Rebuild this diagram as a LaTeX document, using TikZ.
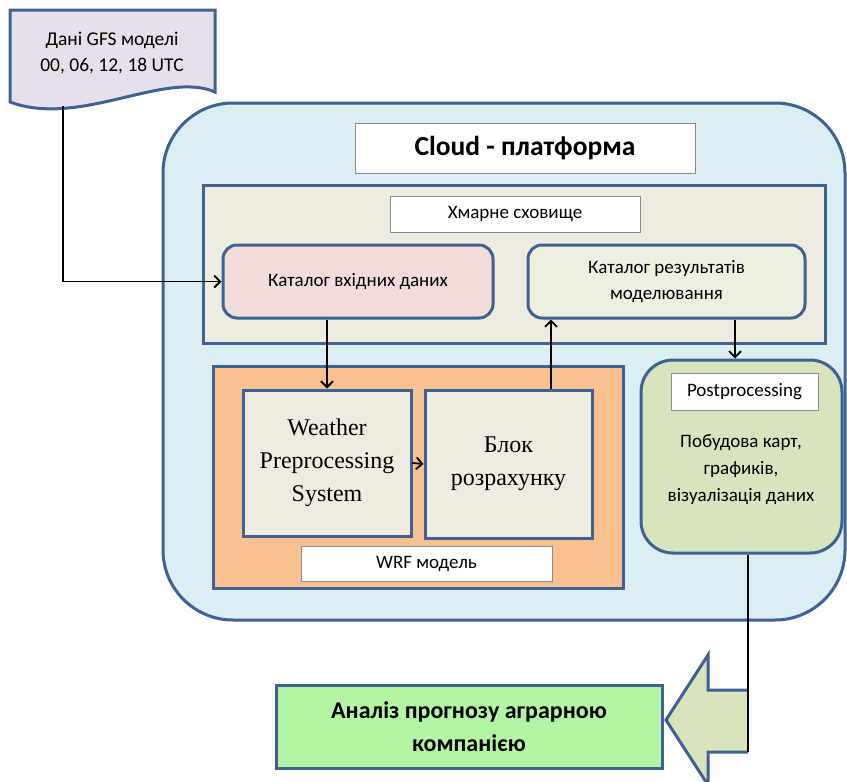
\documentclass[tikz,border=0pt]{standalone}
\usepackage{fontspec}
\setmainfont{Carlito}
\newfontfamily\serifface{Liberation Serif}
\usetikzlibrary{arrows.meta}

\definecolor{edgeblue}{HTML}{3D6293}
\definecolor{cloudfill}{HTML}{DAEEF3}
\definecolor{storefill}{HTML}{EEECE1}
\definecolor{pinkfill}{HTML}{F2DCDB}
\definecolor{palegreen}{HTML}{EBF1DE}
\definecolor{orangefill}{HTML}{FAC090}
\definecolor{olivefill}{HTML}{D7E4BD}
\definecolor{resultfill}{HTML}{B4F5A4}
\definecolor{docfill}{HTML}{E5E0EC}
\definecolor{labeledge}{HTML}{8C8C8C}

\tikzset{
  blockbox/.style={draw=edgeblue, line width=3pt, inner sep=0pt, align=center},
  labelbox/.style={draw=labeledge, line width=0.8pt, fill=white, inner sep=0pt, align=center},
  conn/.style={draw=black, line width=1.8pt, -{Straight Barb[length=6pt,width=12pt,line width=1.8pt]}},
  plainline/.style={draw=black, line width=1.8pt},
  smalltext/.style={font=\fontsize{19}{26}\selectfont},
  midtext/.style={font=\fontsize{19.5}{26}\selectfont},
  seriftext/.style={font=\serifface\fontsize{24}{33}\selectfont},
}

\begin{document}
\begin{tikzpicture}[x=1pt,y=-1pt]
\useasboundingbox (0,0) rectangle (847,782);

% GFS input document
\draw[edgeblue, line width=3pt, fill=docfill]
  (10,10) -- (215,10) -- (215,92)
  .. controls (165,70) and (80,128) .. (10,102) -- cycle;
\node[midtext, align=center] (gfs) at (112,53) {Дані GFS моделі\\00, 06, 12, 18 UTC};
\coordinate (gfsout) at (63,106);

% cloud platform
\node[blockbox, fill=cloudfill, rounded corners=70pt, minimum width=682pt, minimum height=517pt] (cloud) at (504,361.5) {};
\node[labelbox, minimum width=340pt, minimum height=50pt, font=\fontsize{27.5}{30}\selectfont\bfseries] (title) at (525,148) {Cloud - платформа};

% storage
\node[blockbox, fill=storefill, minimum width=622pt, minimum height=158pt] (store) at (514,264) {};
\node[labelbox, smalltext, minimum width=250pt, minimum height=36pt] (storelabel) at (515,214) {Хмарне сховище};
\node[blockbox, smalltext, fill=pinkfill, rounded corners=14pt, minimum width=270pt, minimum height=73pt] (incat) at (358,281.5) {Каталог вхідних даних};
\node[blockbox, smalltext, fill=palegreen, rounded corners=14pt, minimum width=277pt, minimum height=73pt] (outcat) at (666.5,281.5) {Каталог результатів\\моделювання};

% WRF model
\node[blockbox, fill=orangefill, minimum width=410pt, minimum height=222pt] (wrf) at (418,477) {};
\node[blockbox, seriftext, fill=storefill, minimum width=168pt, minimum height=146pt] (wps) at (327,463) {Weather\\Preprocessing\\System};
\node[blockbox, seriftext, fill=storefill, minimum width=167pt, minimum height=148pt] (calc) at (508.5,464) {Блок\\розрахунку};
\node[labelbox, smalltext, minimum width=251pt, minimum height=35pt] (wrflabel) at (426.5,563.5) {WRF модель};

% postprocessing
\node[blockbox, fill=olivefill, rounded corners=32pt, minimum width=201pt, minimum height=193pt] (post) at (741.5,456.5) {};
\node[labelbox, smalltext, minimum width=147pt, minimum height=37pt] (postlabel) at (744.5,391.5) {Postprocessing};
\node[align=center, font=\fontsize{19}{27}\selectfont] (posttext) at (741,470) {Побудова карт,\\графиків,\\візуалізація даних};

% result
\node[blockbox, fill=resultfill, minimum width=386pt, minimum height=83pt, font=\fontsize{24}{33}\selectfont\bfseries] (result) at (469,726.5) {Аналіз прогнозу аграрною\\компанією};

% big arrow into the result box
\coordinate (shaftend) at (748,752);
\draw[edgeblue, line width=3pt, fill=olivefill]
  (748,690) -- (708,690) -- (708,655) -- (666,720) -- (708,785) -- (708,752) -- (shaftend);

% connectors
\coordinate (upx) at (551,0);
\coordinate (downx) at (735,0);
\coordinate (outx) at (748,0);
\draw[conn] (gfsout) |- (incat.west);
\draw[conn] (incat.south -| wps.north) -- (wps.north);
\draw[conn] (wps.east) -- (calc.west);
\draw[conn] (calc.north -| upx) -- (outcat.south -| upx);
\draw[conn] (outcat.south -| downx) -- (post.north -| downx);
\draw[plainline] (post.south -| outx) -- (shaftend);
\end{tikzpicture}
\end{document}
